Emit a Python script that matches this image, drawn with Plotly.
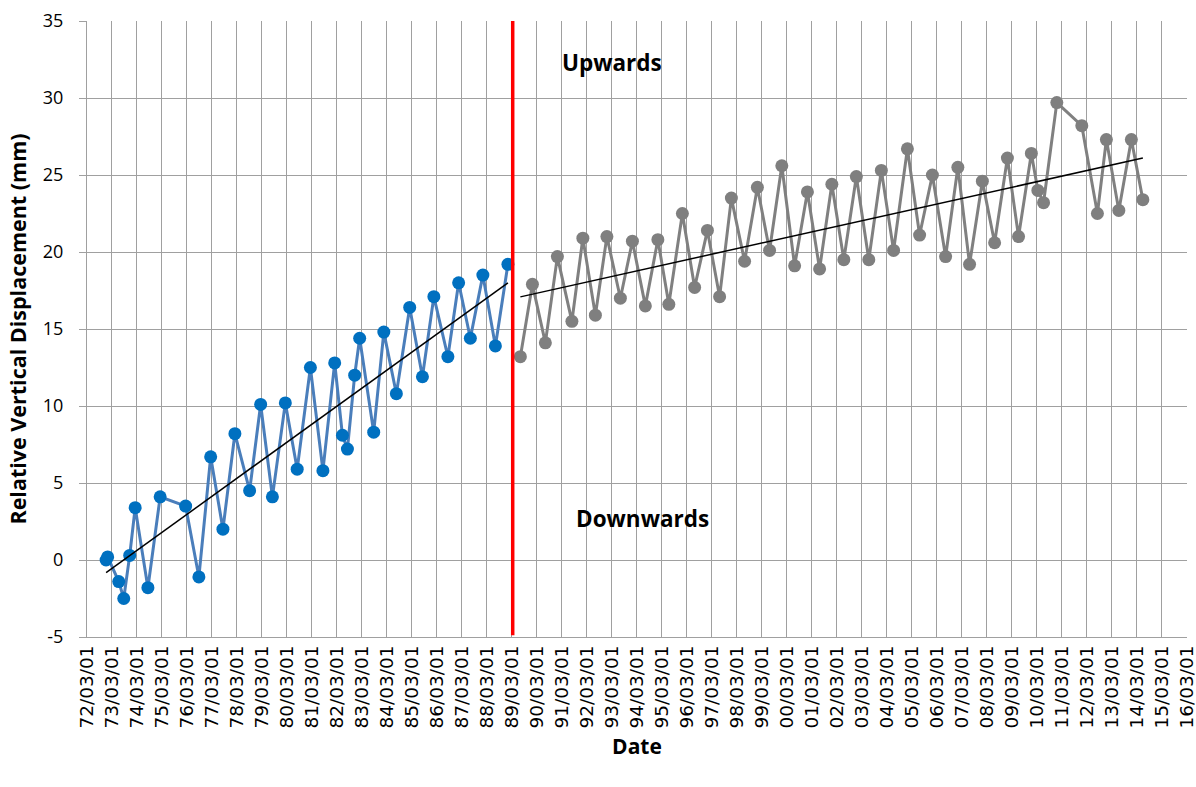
import numpy as np
import pandas as pd
import plotly.graph_objects as go

# Levelling record before the change point (blue series)
dates_early = [
    "1972-12-05", "1972-12-28", "1973-06-08", "1973-08-20", "1973-11-15", "1974-02-03",
    "1974-08-08", "1975-02-03", "1976-02-10", "1976-08-22", "1977-02-10", "1977-08-08",
    "1978-01-30", "1978-09-02", "1979-02-10", "1979-08-01", "1980-02-06", "1980-07-28",
    "1981-02-06", "1981-08-08", "1982-01-27", "1982-05-20", "1982-08-01", "1982-11-15",
    "1983-01-27", "1983-08-20", "1984-01-15", "1984-07-16", "1985-01-27", "1985-08-01",
    "1986-01-15", "1986-08-08", "1987-01-12", "1987-07-02", "1988-01-01", "1988-07-02",
    "1989-01-01",
]
disp_early = [
    0.0, 0.2, -1.4, -2.5, 0.3, 3.4,
    -1.8, 4.1, 3.5, -1.1, 6.7, 2.0,
    8.2, 4.5, 10.1, 4.1, 10.2, 5.9,
    12.5, 5.8, 12.8, 8.1, 7.2, 12.0,
    14.4, 8.3, 14.8, 10.8, 16.4, 11.9,
    17.1, 13.2, 18.0, 14.4, 18.5, 13.9,
    19.2,
]

# Levelling record after the change point (grey series)
dates_late = [
    "1989-07-02", "1989-12-25", "1990-07-02", "1990-12-25", "1991-07-25", "1992-01-01",
    "1992-07-02", "1992-12-17", "1993-07-02", "1993-12-25", "1994-07-02", "1995-01-01",
    "1995-06-10", "1995-12-25", "1996-06-21", "1996-12-25", "1997-06-21", "1997-12-10",
    "1998-06-21", "1998-12-25", "1999-06-21", "1999-12-17", "2000-06-21", "2000-12-25",
    "2001-06-21", "2001-12-17", "2002-06-10", "2002-12-10", "2003-06-10", "2003-12-10",
    "2004-06-06", "2004-12-25", "2005-06-21", "2005-12-25", "2006-07-06", "2007-01-01",
    "2007-06-21", "2007-12-25", "2008-06-21", "2008-12-25", "2009-06-06", "2009-12-10",
    "2010-03-15", "2010-06-06", "2010-12-17", "2011-12-17", "2012-08-01", "2012-12-10",
    "2013-06-10", "2013-12-10", "2014-05-27",
]
disp_late = [
    13.2, 17.9, 14.1, 19.7, 15.5, 20.9,
    15.9, 21.0, 17.0, 20.7, 16.5, 20.8,
    16.6, 22.5, 17.7, 21.4, 17.1, 23.5,
    19.4, 24.2, 20.1, 25.6, 19.1, 23.9,
    18.9, 24.4, 19.5, 24.9, 19.5, 25.3,
    20.1, 26.7, 21.1, 25.0, 19.7, 25.5,
    19.2, 24.6, 20.6, 26.1, 21.0, 26.4,
    24.0, 23.2, 29.7, 28.2, 22.5, 27.3,
    22.7, 27.3, 23.4,
]

change_date = "1989-03-12"
tick_dates = [f"{y}-03-01" for y in range(1972, 2017)]
tick_text = [f"{y % 100:02d}/03/01" for y in range(1972, 2017)]
y_ticks = [-5, 0, 5, 10, 15, 20, 25, 30, 35]
y_text = [str(v) for v in y_ticks]


def linear_trend(dates, values):
    d = pd.to_datetime(pd.Series(dates))
    days = (d - d.iloc[0]).dt.days.to_numpy(dtype=float)
    slope, icpt = np.polyfit(days, np.asarray(values, dtype=float), 1)
    ends = np.array([days[0], days[-1]])
    return [d.iloc[0], d.iloc[-1]], list(icpt + slope * ends)


fig = go.Figure()

fig.add_trace(go.Scatter(
    x=dates_early, y=disp_early, mode="lines+markers",
    line=dict(color="#4a7ebb", width=3),
    marker=dict(color="#0070c0", size=13),
    showlegend=False,
))
fig.add_trace(go.Scatter(
    x=dates_late, y=disp_late, mode="lines+markers",
    line=dict(color="#808080", width=3),
    marker=dict(color="#7f7f7f", size=13),
    showlegend=False,
))

for dts, vals in ((dates_early, disp_early), (dates_late, disp_late)):
    tx, ty = linear_trend(dts, vals)
    fig.add_trace(go.Scatter(
        x=tx, y=ty, mode="lines",
        line=dict(color="black", width=1.5),
        showlegend=False, hoverinfo="skip",
    ))

# change point marker
fig.add_shape(
    type="line", xref="x", yref="paper",
    x0=change_date, x1=change_date, y0=0.003, y1=1,
    line=dict(color="#ff0000", width=3.5),
)

fig.add_annotation(x="1993-03-01", y=32.3, text="<b>Upwards</b>", showarrow=False,
                   font=dict(size=22.5, color="black", family="Open Sans"))
fig.add_annotation(x="1994-05-15", y=2.7, text="<b>Downwards</b>", showarrow=False,
                   font=dict(size=22.5, color="black", family="Open Sans"))

fig.update_layout(
    width=1196, height=787,
    margin=dict(l=87, r=9, t=21, b=150, autoexpand=False),
    plot_bgcolor="white", paper_bgcolor="white",
    font=dict(family="Open Sans", color="black"),
    xaxis=dict(
        type="date",
        range=["1972-03-01", "2016-03-02"],
        tickvals=tick_dates,
        ticktext=tick_text,
        tickangle=-90,
        tickfont=dict(size=18.5, family="DejaVu Sans"),
        ticklabeloverflow="allow",
        automargin=False,
        showgrid=True, gridcolor="#a0a0a0", gridwidth=1,
        showline=True, linecolor="#a0a0a0", linewidth=1,
        ticks="", zeroline=False,
        title=dict(text="<b>Date</b>", font=dict(size=21), standoff=11),
    ),
    yaxis=dict(
        range=[-5, 35],
        tickvals=y_ticks,
        ticktext=y_text,
        tickfont=dict(size=18),
        showgrid=True, gridcolor="#a0a0a0", gridwidth=1,
        showline=True, linecolor="#a0a0a0", linewidth=1,
        ticks="outside", ticklen=7, tickcolor="#a0a0a0",
        ticklabelstandoff=12,
        automargin=False,
        zeroline=False,
        title=dict(text="<b>Relative Vertical Displacement (mm)</b>", font=dict(size=21.5), standoff=10),
    ),
)

fig.write_html("out.html")
